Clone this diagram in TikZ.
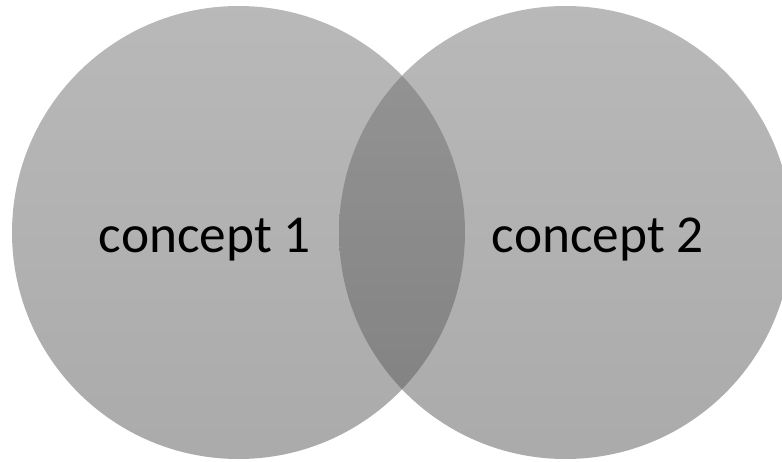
\documentclass[tikz,border=0pt]{standalone}
\usepackage{fontspec}
\setmainfont{Carlito}
\begin{document}
\begin{tikzpicture}[x=0.75pt,y=-0.75pt,
  setcircle/.style={shade, top color=black!55, bottom color=black!66, fill opacity=0.5, draw=none},
  label/.style={font=\fontsize{40}{48}\selectfont, anchor=base, text=black, inner sep=0pt}]
\useasboundingbox (0,0) rectangle (782,461);
\begin{scope}
\clip (0,0) rectangle (782,461);
\path[setcircle] (238.5,232.5) circle[radius=226.5];
\path[setcircle] (565.5,232.5) circle[radius=226.5];
\end{scope}
\node[label] (c1) at (205,252) {concept 1};
\node[label] (c2) at (598,252) {concept 2};
\end{tikzpicture}
\end{document}
